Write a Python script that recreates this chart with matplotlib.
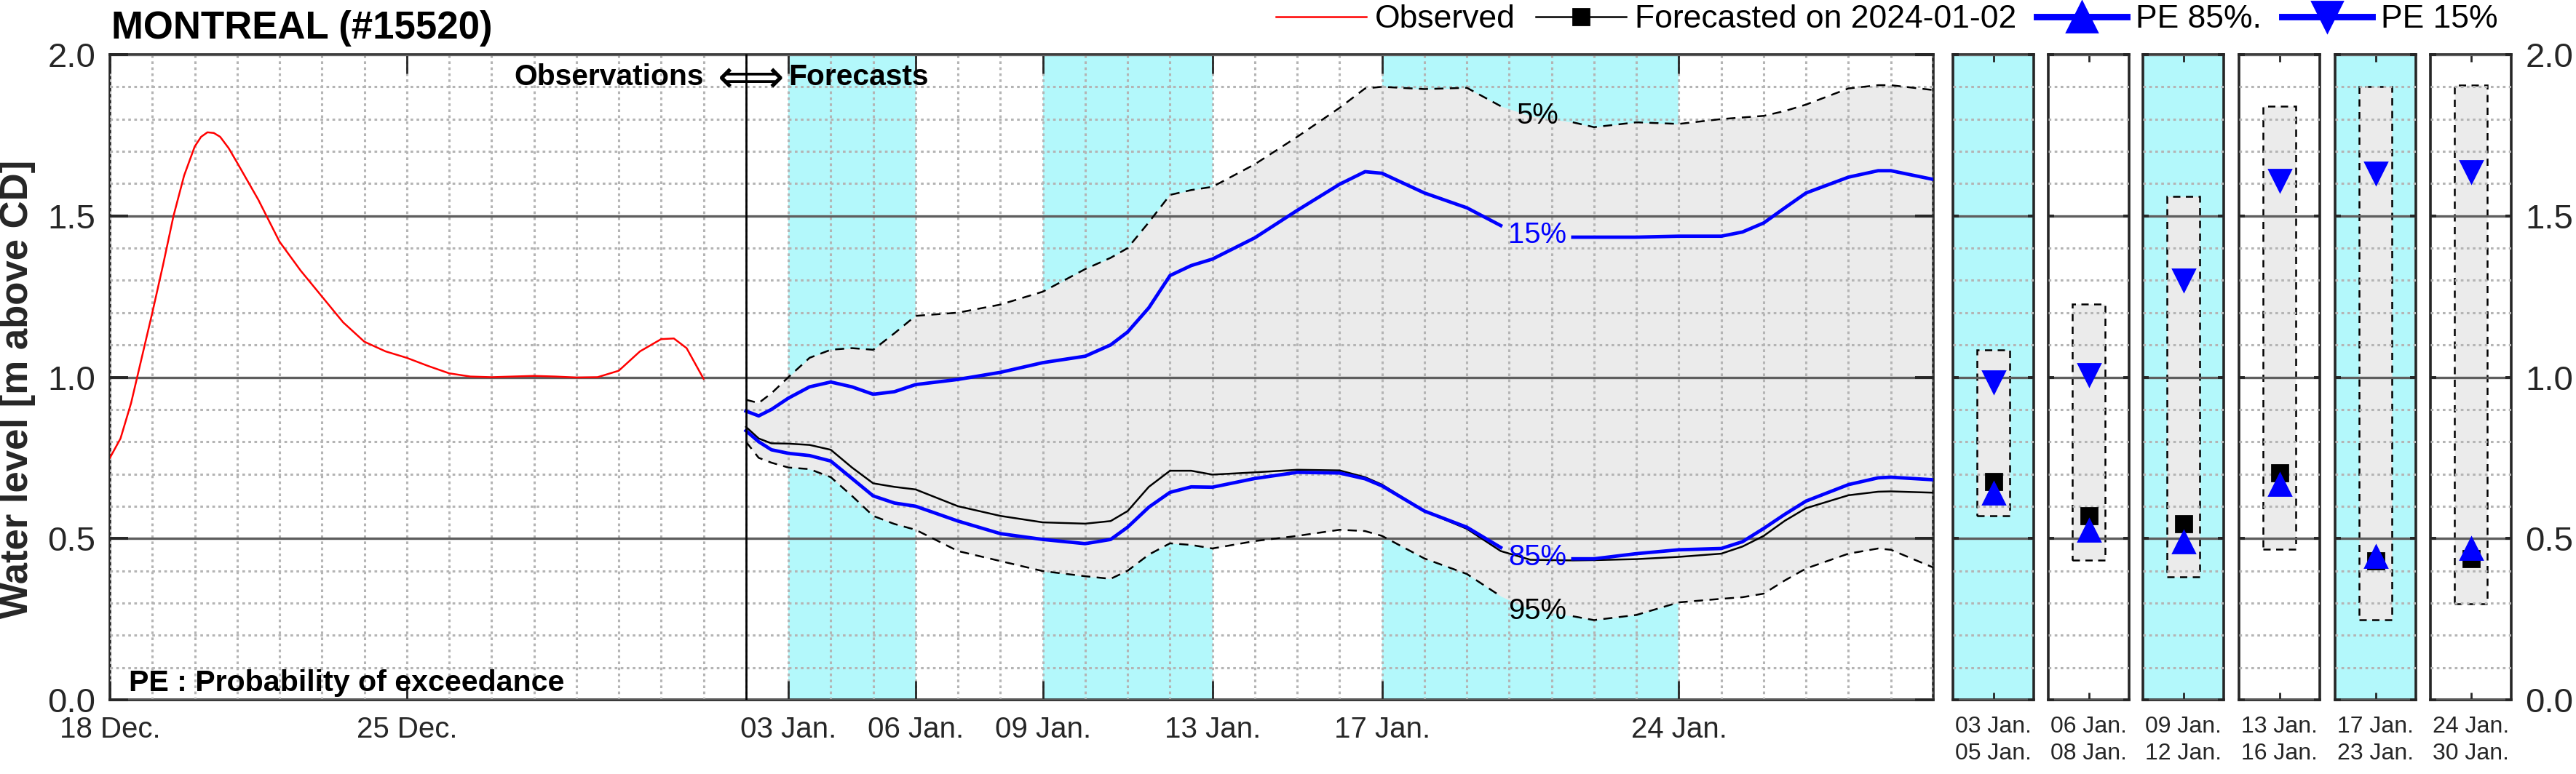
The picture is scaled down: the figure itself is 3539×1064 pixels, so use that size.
import numpy as np
import matplotlib
matplotlib.use('Agg')
import matplotlib.pyplot as plt
from matplotlib.ticker import MultipleLocator
from matplotlib.patches import Rectangle
from matplotlib.lines import Line2D

plt.rcParams['font.family'] = ['Liberation Sans', 'DejaVu Sans']

station = 'MONTREAL (#15520)'
issued = '2024-01-02'

# time axis in days since 18 Dec.
obs_days = [0, 0.25, 0.5, 0.75, 1, 1.25, 1.5, 1.75, 2, 2.15, 2.3, 2.45, 2.6, 2.8, 3, 3.5, 4, 4.5,
            5, 5.5, 6, 6.5, 7, 7.5, 8, 8.5, 9, 9.5, 10, 10.5, 11, 11.5, 12, 12.5, 13, 13.3,
            13.6, 14]
obs_level = [0.75, 0.81, 0.92, 1.06, 1.20, 1.346, 1.50, 1.625, 1.715, 1.745, 1.759, 1.757, 1.745,
             1.71, 1.665, 1.55, 1.42, 1.33, 1.25, 1.17, 1.11, 1.08, 1.06, 1.035, 1.012, 1.002,
             1.0, 1.002, 1.004, 1.002, 0.999, 1.0, 1.02, 1.08, 1.118, 1.12, 1.09, 0.995]

fc_days = np.array([15, 15.3, 15.6, 16, 16.5, 17, 17.5, 18, 18.5, 19, 20, 21, 22, 23, 23.6, 24,
                    24.5, 25, 25.5, 26, 27, 28, 29, 29.6, 30, 31, 32, 32.8, 33.5, 34.5, 35, 36,
                    37, 38, 38.5, 39, 39.5, 40, 41, 41.7, 42, 43])
fc_level = np.array([0.846, 0.81, 0.795, 0.794, 0.79, 0.775, 0.72, 0.671, 0.66, 0.652, 0.60,
                     0.57, 0.55, 0.546, 0.554, 0.585, 0.66, 0.71, 0.71, 0.698, 0.705, 0.713,
                     0.711, 0.69, 0.667, 0.585, 0.53, 0.461, 0.434, 0.432, 0.433, 0.436, 0.443,
                     0.453, 0.475, 0.508, 0.555, 0.594, 0.634, 0.645, 0.646, 0.642])
pe05 = np.array([0.93, 0.92, 0.95, 1.00, 1.06, 1.085, 1.09, 1.085, 1.136, 1.19, 1.20, 1.225,
                 1.265, 1.335, 1.37, 1.40, 1.48, 1.565, 1.58, 1.59, 1.66, 1.745, 1.835, 1.895,
                 1.90, 1.893, 1.897, 1.84, 1.81, 1.79, 1.775, 1.79, 1.785, 1.80, 1.805, 1.81,
                 1.825, 1.845, 1.895, 1.905, 1.905, 1.89])
pe15 = np.array([0.895, 0.88, 0.90, 0.935, 0.97, 0.985, 0.97, 0.947, 0.955, 0.977, 0.993, 1.015,
                 1.045, 1.065, 1.10, 1.14, 1.215, 1.315, 1.346, 1.366, 1.432, 1.517, 1.598,
                 1.637, 1.632, 1.571, 1.525, 1.47, 1.44, 1.434, 1.434, 1.434, 1.437, 1.437, 1.45,
                 1.478, 1.525, 1.571, 1.62, 1.64, 1.64, 1.613])
pe85 = np.array([0.834, 0.80, 0.775, 0.764, 0.757, 0.74, 0.686, 0.632, 0.61, 0.60, 0.554, 0.515,
                 0.497, 0.484, 0.497, 0.535, 0.597, 0.643, 0.66, 0.659, 0.686, 0.705, 0.703,
                 0.685, 0.663, 0.585, 0.535, 0.472, 0.45, 0.437, 0.437, 0.453, 0.465, 0.469,
                 0.49, 0.531, 0.575, 0.616, 0.667, 0.688, 0.69, 0.682])
pe95 = np.array([0.80, 0.75, 0.735, 0.72, 0.715, 0.69, 0.632, 0.57, 0.545, 0.527, 0.461, 0.43,
                 0.399, 0.383, 0.375, 0.40, 0.45, 0.485, 0.48, 0.469, 0.492, 0.508, 0.527,
                 0.523, 0.508, 0.438, 0.39, 0.321, 0.28, 0.259, 0.247, 0.263, 0.302, 0.313,
                 0.318, 0.329, 0.37, 0.407, 0.453, 0.469, 0.465, 0.41])

tick_days = [0, 7, 16, 19, 22, 26, 30, 37]
tick_labels = ['18 Dec.', '25 Dec.', '03 Jan.', '06 Jan.', '09 Jan.', '13 Jan.', '17 Jan.', '24 Jan.']
cyan_spans = [(16, 19), (22, 26), (30, 37)]

# period summaries
period_labels = ['03 Jan.\n05 Jan.', '06 Jan.\n08 Jan.', '09 Jan.\n12 Jan.',
                 '13 Jan.\n16 Jan.', '17 Jan.\n23 Jan.', '24 Jan.\n30 Jan.']
period_cyan = [True, False, True, False, True, False]
per_pe05 = [1.085, 1.226, 1.56, 1.84, 1.90, 1.905]
per_pe15 = [0.985, 1.008, 1.30, 1.61, 1.633, 1.637]
per_fc = [0.676, 0.571, 0.546, 0.703, 0.431, 0.437]
per_pe85 = [0.64, 0.525, 0.49, 0.667, 0.444, 0.468]
per_pe95 = [0.57, 0.433, 0.38, 0.467, 0.249, 0.297]

CYAN = '#b3f8fb'
GREY = '#ebebeb'
DARK = '#262626'
W, H, DPI = 3539, 1064, 200

fig = plt.figure(figsize=(W / DPI, H / DPI), dpi=DPI)


def box(x0, y0, x1, y1):
    return [x0 / W, 1 - y1 / H, (x1 - x0) / W, (y1 - y0) / H]


def base_style(ax):
    ax.set_ylim(0, 2)
    ax.set_axisbelow(False)
    ax.yaxis.set_major_locator(MultipleLocator(0.5))
    ax.yaxis.set_minor_locator(MultipleLocator(0.1))
    ax.grid(True, which='major', axis='y', color='#5e5e5e', lw=1.2, ls='-')
    ax.grid(True, which='minor', axis='y', color='#b4b4b4', lw=1.1, ls=(0, (1.2, 1.5)))
    for s in ax.spines.values():
        s.set_color(DARK)
        s.set_linewidth(1.3)
    ax.tick_params(axis='y', which='minor', length=0)
    ax.tick_params(axis='x', which='minor', length=0)


# main axes
ax = fig.add_axes(box(151, 75, 2656, 962))
base_style(ax)
ax.set_xlim(0, 43)
ax.set_xticks(tick_days)
ax.set_xticklabels(tick_labels)
ax.xaxis.set_minor_locator(MultipleLocator(1))
ax.grid(True, which='both', axis='x', color='#b4b4b4', lw=1.1, ls=(0, (1.2, 1.5)))
ax.yaxis.set_major_formatter(lambda v, p: f'{v:.1f}')
ax.tick_params(axis='y', which='major', direction='in', length=9, width=1.4, color=DARK,
               left=True, right=True, labelsize=17, pad=7, labelcolor=DARK)
ax.tick_params(axis='x', which='major', direction='in', length=9.4, width=1.0, color=DARK,
               top=True, bottom=True, labelsize=14.5, pad=8, labelcolor=DARK)

for a, b in cyan_spans:
    ax.axvspan(a, b, color=CYAN, lw=0, zorder=0.5)
ax.fill_between(fc_days, pe95, pe05, color=GREY, lw=0, zorder=1)

gap = (fc_days > 32.8) & (fc_days < 34.5)
ax.plot(fc_days, np.where(gap, np.nan, pe05), color='k', lw=0.9, ls=(0, (5, 3.5)), zorder=3)
ax.plot(fc_days, np.where(gap, np.nan, pe95), color='k', lw=0.9, ls=(0, (5, 3.5)), zorder=3)
ax.plot(fc_days, fc_level, color='k', lw=0.9, zorder=3)
ax.plot(fc_days, np.where(gap, np.nan, pe15), color='blue', lw=1.7, zorder=4)
ax.plot(fc_days, np.where(gap, np.nan, pe85), color='blue', lw=1.7, zorder=4)
ax.plot(obs_days, obs_level, color='red', lw=0.9, zorder=4)
ax.axvline(15, color='k', lw=1.0, zorder=4)

ax.text(33.67, 1.81, '5%', ha='center', va='center', fontsize=14.4, zorder=5)
ax.text(33.67, 1.44, '15%', ha='center', va='center', fontsize=14.4, color='blue', zorder=5)
ax.text(33.67, 0.442, '85%', ha='center', va='center', fontsize=14.4, color='blue', zorder=5)
ax.text(33.67, 0.275, '95%', ha='center', va='center', fontsize=14.4, zorder=5)

tr = ax.get_xaxis_transform()
ax.text(14.0, 0.953, 'Observations', transform=tr, ha='right', va='baseline',
        fontsize=14.7, fontweight='bold')
ax.text(15.0, 0.962, r'$\Longleftrightarrow$', transform=tr, ha='center', va='center', fontsize=23)
ax.text(16.0, 0.953, 'Forecasts', transform=tr, ha='left', va='baseline',
        fontsize=14.7, fontweight='bold')
ax.text(0.0104, 0.013, 'PE : Probability of exceedance', transform=ax.transAxes,
        ha='left', va='baseline', fontsize=14.8, fontweight='bold')

# period panels
panel_left = [2683, 2814, 2944, 3076, 3208, 3339]
for i, x0 in enumerate(panel_left):
    pax = fig.add_axes(box(x0, 75, x0 + 111, 962))
    base_style(pax)
    pax.set_xlim(0, 1)
    if period_cyan[i]:
        pax.set_facecolor(CYAN)
    pax.add_patch(Rectangle((0.3, per_pe95[i]), 0.4, per_pe05[i] - per_pe95[i], facecolor=GREY,
                            edgecolor='k', lw=0.9, ls=(0, (4, 3)), zorder=1))
    pax.plot([0.5], [per_fc[i]], 's', color='k', ms=8, zorder=4)
    pax.plot([0.5], [per_pe85[i]], '^', color='blue', ms=11, zorder=5)
    pax.plot([0.5], [per_pe15[i]], 'v', color='blue', ms=11, zorder=5)
    pax.set_xticks([0.5])
    pax.set_xticklabels([period_labels[i]], linespacing=1.3)
    pax.tick_params(axis='x', which='major', direction='in', length=3.5, width=1.0, color=DARK,
                    top=True, bottom=True, labelsize=11.5, pad=8, labelcolor=DARK)
    last = i == len(panel_left) - 1
    pax.yaxis.set_major_formatter(lambda v, p: f'{v:.1f}')
    pax.tick_params(axis='y', which='major', direction='in', length=3, width=1.4, color=DARK,
                    left=True, right=True, labelleft=False, labelright=last,
                    labelsize=17, pad=7, labelcolor=DARK)

handles = [Line2D([], [], color='red', lw=0.9),
           Line2D([], [], color='k', lw=0.9, marker='s', ms=8),
           Line2D([], [], color='blue', lw=3.2, marker='^', ms=15),
           Line2D([], [], color='blue', lw=3.2, marker='v', ms=15)]
fig.legend(handles, ['Observed', f'Forecasted on {issued}', 'PE 85%.', 'PE 15%'],
           loc='center right', bbox_to_anchor=(3432 / W, 1 - 27 / H), ncol=4, frameon=False,
           fontsize=16, handlelength=2.8, handletextpad=0.27, columnspacing=0.62,
           borderpad=0, borderaxespad=0)

fig.text(153 / W, 1 - 53 / H, station, fontsize=19, fontweight='bold', ha='left', va='baseline')
fig.text(24 / W, 1 - 535 / H, 'Water level [m above CD]', rotation=90, fontsize=19,
         fontweight='bold', ha='center', va='center', color=DARK)

fig.savefig('out.png', dpi=DPI)
